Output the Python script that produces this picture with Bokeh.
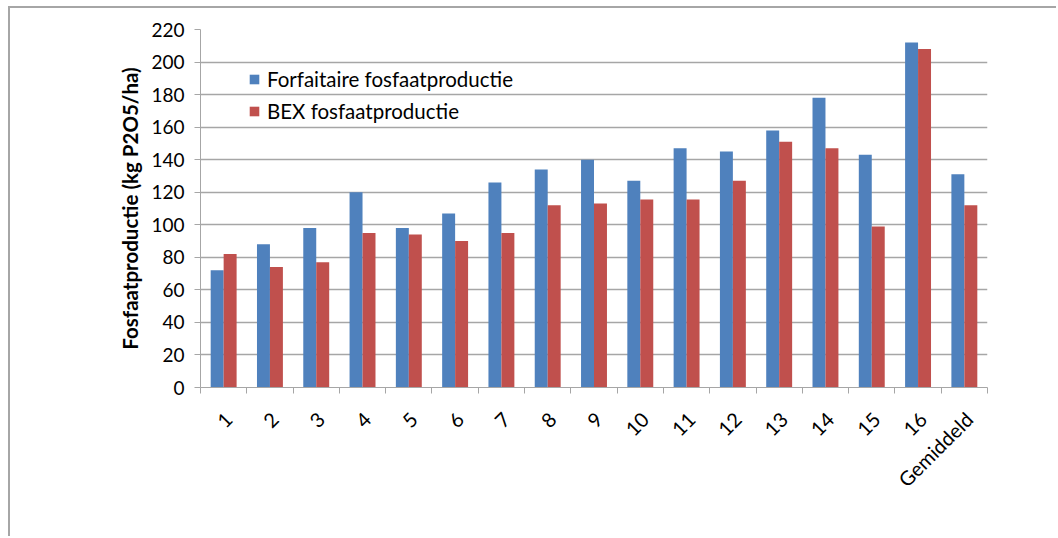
import math
from bokeh.plotting import figure
from bokeh.models import ColumnDataSource, FixedTicker, Range1d, Legend, LegendItem
from bokeh.embed import file_html
from bokeh.resources import INLINE

categories = ["1", "2", "3", "4", "5", "6", "7", "8", "9", "10", "11", "12",
              "13", "14", "15", "16", "Gemiddeld"]
forfaitaire = [72, 88, 98, 120, 98, 107, 126, 134, 140, 127, 147, 145, 158, 178, 143, 212, 131]
bex = [82, 74, 77, 95, 94, 90, 95, 112, 113, 115.5, 115.5, 127, 151, 147, 99, 208, 112]
y_ticks = [0, 20, 40, 60, 80, 100, 120, 140, 160, 180, 200, 220]
series_names = ["Forfaitaire fosfaatproductie", "BEX fosfaatproductie"]
colors = ["#4F81BD", "#C0504D"]

FONT = "Lato"
GRID = "#A6A6A6"

n = len(categories)
centers = [i + 0.5 for i in range(n)]
label_pos = [c + 0.1 for c in centers]
bw = 0.28

p = figure(width=1048, height=530, output_backend="svg", toolbar_location=None,
           x_range=Range1d(0, n), y_range=Range1d(0, 220),
           min_border_left=190, min_border_right=71, min_border_top=21, min_border_bottom=151)
p.outline_line_color = None
p.background_fill_color = "white"
p.border_fill_color = "white"
p.styles = {"border-left": "2px solid #A6A6A6", "border-top": "2px solid #A6A6A6",
            "box-sizing": "border-box", "margin-left": "8px", "margin-top": "6px"}

src = ColumnDataSource(dict(
    x1=[c - bw / 2 for c in centers], x2=[c + bw / 2 for c in centers],
    f=forfaitaire, b=bex))
r1 = p.vbar(x="x1", top="f", bottom=0, width=bw, source=src, fill_color=colors[0], line_color=None)
r2 = p.vbar(x="x2", top="b", bottom=0, width=bw, source=src, fill_color=colors[1], line_color=None)

# grid
p.xgrid.grid_line_color = None
p.ygrid.ticker = FixedTicker(ticks=y_ticks)
p.ygrid.grid_line_color = GRID
p.ygrid.grid_line_width = 1.3

# y axis
ya = p.yaxis[0]
ya.ticker = FixedTicker(ticks=y_ticks)
ya.axis_line_color = GRID
ya.major_tick_line_color = GRID
ya.major_tick_out = 6
ya.major_tick_in = 0
ya.minor_tick_line_color = None
ya.major_label_text_font = FONT
ya.major_label_text_font_size = "19px"
ya.major_label_text_color = "#000000"
ya.major_label_standoff = 10
ya.axis_label = "Fosfaatproductie (kg P2O5/ha)"
ya.axis_label_text_font = FONT
ya.axis_label_text_font_size = "20.5px"
ya.axis_label_text_font_style = "bold"
ya.axis_label_text_color = "#000000"
ya.axis_label_standoff = 6

# x axis
xa = p.xaxis[0]
xa.ticker = FixedTicker(ticks=label_pos, minor_ticks=list(range(n + 1)))
xa.major_label_overrides = {c: lab for c, lab in zip(label_pos, categories)}
xa.axis_line_color = GRID
xa.major_tick_line_color = None
xa.major_tick_out = 0
xa.major_tick_in = 0
xa.minor_tick_line_color = GRID
xa.minor_tick_out = 6
xa.minor_tick_in = 0
xa.major_label_orientation = math.pi / 4
xa.major_label_text_font = FONT
xa.major_label_text_font_size = "20px"
xa.major_label_text_color = "#000000"
xa.major_label_standoff = 22

legend = Legend(items=[LegendItem(label=series_names[0], renderers=[r1]),
                       LegendItem(label=series_names[1], renderers=[r2])],
                location=(48, 264), orientation="vertical")
legend.background_fill_alpha = 0
legend.border_line_color = None
legend.padding = 0
legend.margin = 0
legend.spacing = 8
legend.glyph_width = 12
legend.glyph_height = 12
legend.label_height = 24
legend.label_standoff = 7
legend.label_text_font = FONT
legend.label_text_font_size = "20.5px"
legend.label_text_color = "#000000"
p.add_layout(legend)

open("out.html", "w").write(file_html(p, INLINE))
